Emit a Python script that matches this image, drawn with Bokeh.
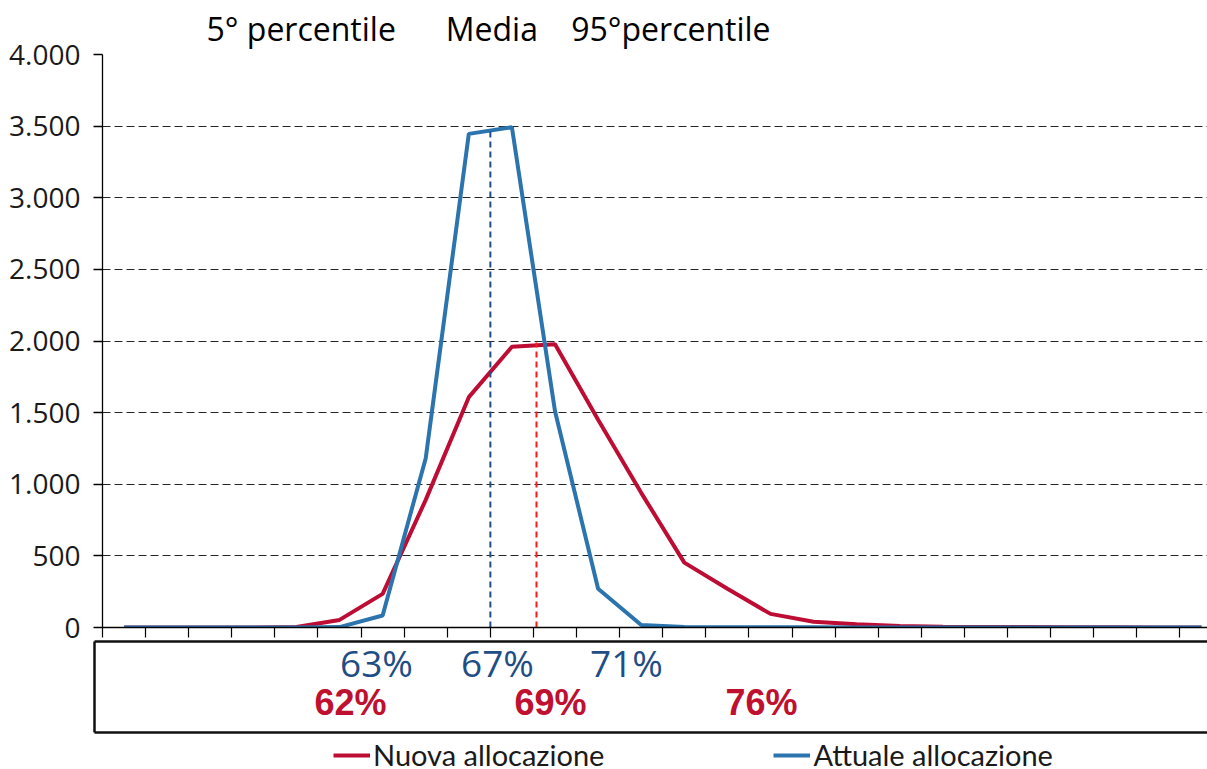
from bokeh.plotting import figure
from bokeh.layouts import column
from bokeh.models import (Range1d, FixedTicker, LinearAxis, Grid, Legend,
                          LegendItem, ColumnDataSource, Title)
from bokeh.core.properties import value
from bokeh.embed import file_html
from bokeh.resources import INLINE

# ---------------- data ----------------
bins = list(range(26))
nuova = [0, 0, 0, 0, 3, 53, 235, 891, 1608, 1960, 1977, 1450, 940, 453, 270, 95,
         40, 22, 10, 5, 3, 3, 2, 1, 0, 0]
attuale = [0, 0, 0, 0, 0, 3, 84, 1182, 3446, 3492, 1510, 270, 17, 3, 2, 1,
           1, 0, 0, 0, 0, 0, 0, 0, 0, 0]
media_attuale_x = 8.5
media_attuale_top = 3480
media_nuova_x = 9.57
media_nuova_top = 1990
y_ticks = [0, 500, 1000, 1500, 2000, 2500, 3000, 3500, 4000]
header_labels = ["5° percentile", "Media", "95°percentile"]
attuale_pct = ["63%", "67%", "71%"]
nuova_pct = ["62%", "69%", "76%"]
series_names = ["Nuova allocazione", "Attuale allocazione"]

RED = "#BE0D34"
BLUE = "#2C74AE"
NAVY = "#1F4E86"

W = 1207
NB = "\u00a0"
# ---------------- main chart ----------------
p1 = figure(width=W, height=640, output_backend="svg", toolbar_location=None,
            x_range=Range1d(-0.5, 25.14), y_range=Range1d(0, 4000),
            min_border_left=102, min_border_right=0, min_border_top=53,
            min_border_bottom=13, x_axis_type=None, y_axis_type=None)
p1.frame_align = False
p1.outline_line_color = None
p1.background_fill_color = "white"
p1.border_fill_color = "white"

header_text = header_labels[0] + NB * 6 + header_labels[1] + NB * 4 + header_labels[2]
p1.title = Title(text=header_text, align="left", offset=104,
                 text_font="Open Sans", text_font_size="32px",
                 text_font_style="normal", text_color="black", standoff=9)

yaxis = LinearAxis(ticker=FixedTicker(ticks=y_ticks))
yaxis.major_label_overrides = {v: f"{v:,}".replace(",", ".") for v in y_ticks}
yaxis.major_label_text_font = "Open Sans"
yaxis.major_label_text_font_size = "28px"
yaxis.major_label_text_color = "#1a1a1a"
yaxis.major_label_standoff = 13
yaxis.major_tick_out = 9
yaxis.major_tick_in = 0
yaxis.minor_tick_out = 0
yaxis.minor_tick_in = 0
yaxis.axis_line_color = "black"
yaxis.axis_line_width = 1.3
yaxis.major_tick_line_color = "black"
yaxis.major_tick_line_width = 1.3
p1.add_layout(yaxis, "left")

# category boundaries as (label-free) tick marks
xaxis = LinearAxis(ticker=FixedTicker(ticks=[], minor_ticks=[b - 0.5 for b in bins]))
xaxis.major_label_standoff = 0
xaxis.major_tick_out = 0
xaxis.major_tick_in = 0
xaxis.minor_tick_out = 10
xaxis.minor_tick_in = 0
xaxis.axis_line_color = "black"
xaxis.axis_line_width = 1.3
xaxis.minor_tick_line_color = "black"
xaxis.minor_tick_line_width = 1.2
p1.add_layout(xaxis, "below")

grid = Grid(dimension=1, ticker=FixedTicker(ticks=[t for t in y_ticks if 0 < t < 4000]),
            grid_line_color="black", grid_line_alpha=0.85, grid_line_width=1,
            grid_line_dash="8 4")
p1.add_layout(grid)
topgrid = Grid(dimension=1, ticker=FixedTicker(ticks=[4000]),
               grid_line_color="#A6A6A6", grid_line_width=3)
p1.add_layout(topgrid)

p1.line(bins, nuova, line_color=RED, line_width=4)
p1.line(bins, attuale, line_color=BLUE, line_width=4)
p1.line([media_attuale_x, media_attuale_x], [0, media_attuale_top],
        line_color=NAVY, line_width=2, line_dash="6 4")
p1.line([media_nuova_x, media_nuova_x], [0, media_nuova_top],
        line_color="#FF1A1A", line_width=2, line_dash="6 4")

# ---------------- lower box with percentiles ----------------
box_left = 94
box_w = W - box_left
p2 = figure(width=W, height=94, output_backend="svg", toolbar_location=None,
            x_range=Range1d(0, box_w), y_range=Range1d(0, 91),
            min_border_left=box_left, min_border_right=0, min_border_top=1,
            min_border_bottom=2, x_axis_type=None, y_axis_type=None)
p2.frame_align = False
p2.outline_line_color = None
p2.xgrid.visible = False
p2.ygrid.visible = False
p2.border_fill_color = "white"
for place in ["left", "above", "below"]:
    ax = LinearAxis(ticker=FixedTicker(ticks=[]))
    ax.major_label_standoff = 0
    ax.major_tick_out = 0
    ax.major_tick_in = 0
    ax.minor_tick_out = 0
    ax.minor_tick_in = 0
    ax.axis_line_color = "#111111"
    ax.axis_line_width = 2.5
    p2.add_layout(ax, place)

attuale_px = [282, 403, 532]
nuova_px = [256, 456, 667]
p2.text(x=attuale_px, y=[70] * 3, text=attuale_pct, text_font=value("Open Sans"),
        text_font_size="37px", text_color=NAVY, text_align="center",
        text_baseline="middle")
p2.text(x=nuova_px, y=[30] * 3, text=nuova_pct, text_font=value("Liberation Sans"),
        text_font_size="36px", text_font_style="bold", text_color="#C0102F",
        text_align="center", text_baseline="middle")

# ---------------- legend strip ----------------
p3 = figure(width=W, height=35, output_backend="svg", toolbar_location=None,
            x_range=Range1d(0, 1), y_range=Range1d(0, 1),
            min_border_left=0, min_border_right=0, min_border_top=0,
            min_border_bottom=0, x_axis_type=None, y_axis_type=None)
p3.frame_align = False
p3.outline_line_color = None
p3.xgrid.visible = False
p3.ygrid.visible = False
nan = float("nan")
r_n = p3.line("x", "y", source=ColumnDataSource(data=dict(x=[nan], y=[nan])),
              line_color=RED, line_width=4)
r_a = p3.line("x", "y", source=ColumnDataSource(data=dict(x=[nan], y=[nan])),
              line_color=BLUE, line_width=4)
legend = Legend(items=[LegendItem(label=series_names[0], renderers=[r_n]),
                       LegendItem(label=series_names[1], renderers=[r_a])],
                orientation="horizontal", location=(333, -3),
                label_text_font="Lato", label_text_font_size="29px",
                label_text_color="#1a1a1a", glyph_width=37, glyph_height=20,
                label_standoff=3, spacing=169, padding=0, margin=0,
                border_line_alpha=0, background_fill_alpha=0)
p3.add_layout(legend)

layout = column(p1, p2, p3, spacing=0)
open("out.html", "w").write(file_html(layout, INLINE))
